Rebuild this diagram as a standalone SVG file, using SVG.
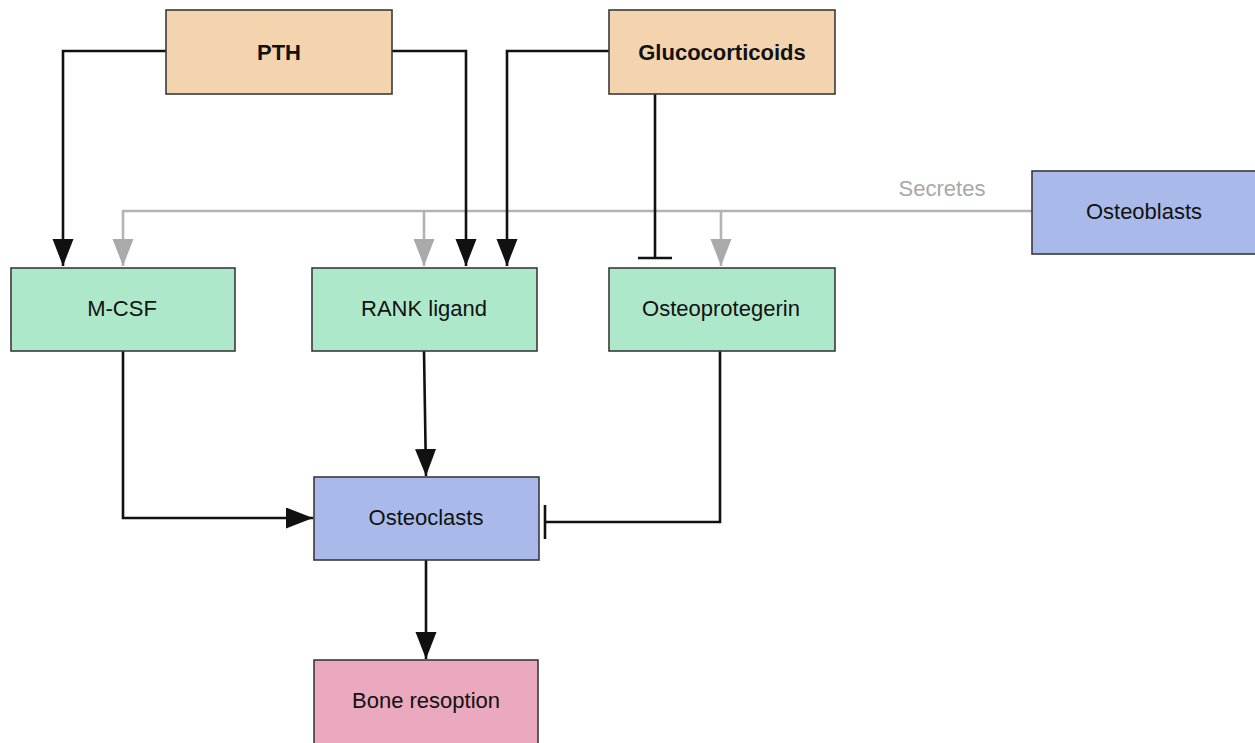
<svg xmlns="http://www.w3.org/2000/svg" width="1255" height="743" viewBox="0 0 1255 743">
<style>
.box{stroke:#3a3a3a;stroke-width:1.6}
.hormone{fill:#f4d4ae}
.factor{fill:#aee8cb}
.cell{fill:#a9baea}
.out{fill:#eaa9bf}
.lbl{font-family:"Liberation Sans",Arial,sans-serif;font-size:22px;fill:#111;text-anchor:middle}
.bold{font-weight:bold}
.k{fill:none;stroke:#111;stroke-width:2.6}
.g{fill:none;stroke:#b3b3b3;stroke-width:2.6}
</style>
<defs>
<marker id="ab" markerUnits="userSpaceOnUse" markerWidth="28" markerHeight="22" refX="27" refY="10.5" orient="auto"><path d="M0,0 L27,10.5 L0,21 z" fill="#111"/></marker>
<marker id="ag" markerUnits="userSpaceOnUse" markerWidth="28" markerHeight="22" refX="27" refY="10.5" orient="auto"><path d="M0,0 L27,10.5 L0,21 z" fill="#aaaaaa"/></marker>
</defs>
<g id="connectors">
<path class="g" d="M1032,211 H123 V266" marker-end="url(#ag)"/>
<path class="g" d="M424,211 V266" marker-end="url(#ag)"/>
<path class="g" d="M721,211 V266" marker-end="url(#ag)"/>
<text class="lbl" x="942" y="196" style="fill:#a8a8a8">Secretes</text>
<path class="k" d="M166,51 H63 V266" marker-end="url(#ab)"/>
<path class="k" d="M392,51 H466 V266" marker-end="url(#ab)"/>
<path class="k" d="M609,51 H507 V266" marker-end="url(#ab)"/>
<path class="k" d="M655,92 V258"/>
<path class="k" d="M638,258 H672"/>
<path class="k" d="M123,351 V518 H313" marker-end="url(#ab)"/>
<path class="k" d="M424,351 L426,476" marker-end="url(#ab)"/>
<path class="k" d="M720,351 V522 H545"/>
<path class="k" d="M545,505 V539"/>
<path class="k" d="M426,560 V659" marker-end="url(#ab)"/>
</g>
<g id="pth"><rect class="box hormone" x="166" y="10" width="226" height="84"/><text class="lbl bold" x="279" y="59.5">PTH</text></g>
<g id="glucocorticoids"><rect class="box hormone" x="609" y="10" width="226" height="84"/><text class="lbl bold" x="722" y="59.5">Glucocorticoids</text></g>
<g id="osteoblasts"><rect class="box cell" x="1032" y="171" width="226" height="83"/><text class="lbl" x="1144" y="219">Osteoblasts</text></g>
<g id="mcsf"><rect class="box factor" x="11" y="268" width="224" height="83"/><text class="lbl" x="122" y="316">M-CSF</text></g>
<g id="rankl"><rect class="box factor" x="312" y="268" width="225" height="83"/><text class="lbl" x="424" y="316">RANK ligand</text></g>
<g id="opg"><rect class="box factor" x="609" y="268" width="226" height="83"/><text class="lbl" x="721" y="316">Osteoprotegerin</text></g>
<g id="osteoclasts"><rect class="box cell" x="314" y="477" width="225" height="83"/><text class="lbl" x="426" y="525">Osteoclasts</text></g>
<g id="bone"><rect class="box out" x="314" y="660" width="224" height="85"/><text class="lbl" x="426" y="708">Bone resoption</text></g>
</svg>
